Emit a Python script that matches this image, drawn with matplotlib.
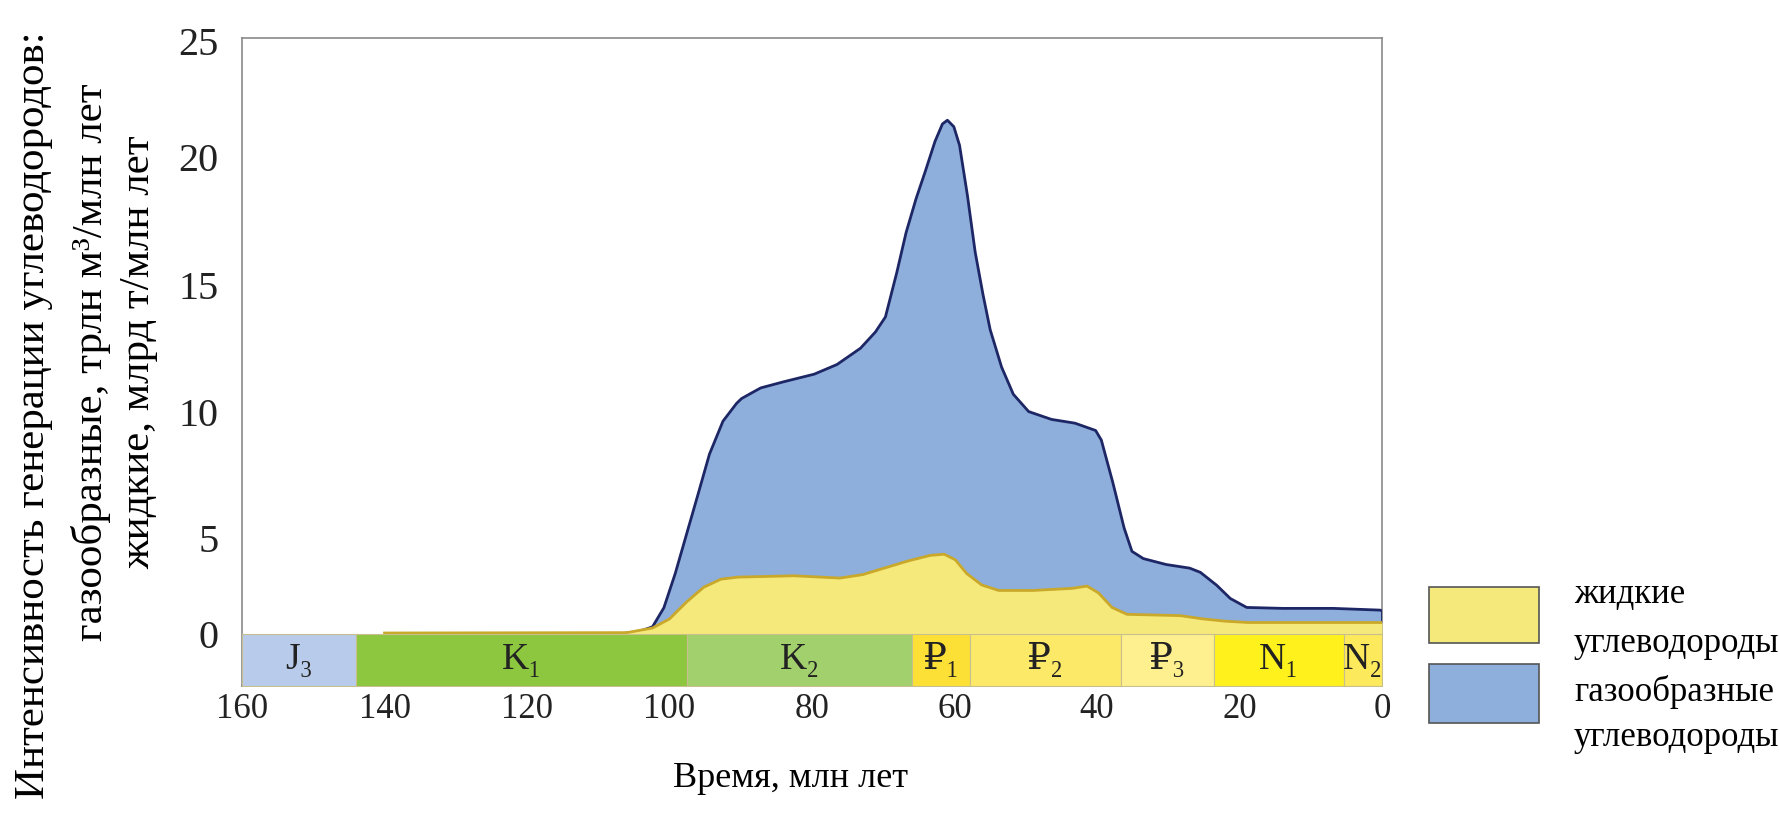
import matplotlib
matplotlib.use("Agg")
import matplotlib.pyplot as plt
import numpy as np
from matplotlib.patches import Rectangle

plt.rcParams['font.family'] = ['Liberation Serif', 'DejaVu Serif']

# gas (blue, upper envelope) - time in Ma, intensity
gas_t = [107, 104.5, 102.4, 100.8, 99.2, 97.6, 96.0, 94.4, 92.5, 90.6, 89.9, 88.5,
         87.2, 84.0, 79.7, 76.5, 73.2, 71.1, 69.7, 68.1, 66.8, 65.4, 64.1, 62.75,
         61.7, 61.0, 60.1, 59.3, 58.2, 57.1, 56.0, 55.0, 53.4, 51.75, 49.6, 46.4,
         43.1, 40.2, 39.4, 37.8, 36.2, 35.1, 33.5, 30.3, 27.0, 25.5, 23.2, 21.3,
         19.0, 13.9, 6.8, 0.3, 0.0]
gas_v = [0.0, 0.10, 0.36, 1.36, 3.16, 5.18, 6.75, 8.34, 9.65, 10.35, 10.54, 10.76,
         10.96, 11.2, 11.5, 11.88, 12.52, 13.16, 13.75, 15.5, 17.05, 18.37, 19.44, 20.66,
         21.42, 21.58, 21.3, 20.5, 18.51, 16.28, 14.62, 13.25, 11.78, 10.71, 10.03, 9.72,
         9.57, 9.28, 8.9, 7.23, 5.41, 4.32, 3.94, 3.63, 3.44, 3.22, 2.54, 1.85,
         1.38, 1.33, 1.33, 1.24, 1.21]

# liquid (yellow)
liq_t = [140, 106, 102.4, 100.0, 97.6, 95.2, 92.8, 90.4, 82.5, 76.1, 72.9, 69.7,
         66.5, 63.4, 61.45, 59.9, 58.3, 56.2, 53.8, 49.0, 43.5, 41.4, 39.8, 37.9,
         35.8, 28.3, 25.15, 22.0, 18.8, 0.0]
liq_v = [0.04, 0.06, 0.30, 0.78, 1.67, 2.44, 2.86, 2.97, 3.04, 2.92, 3.10, 3.46,
         3.82, 4.11, 4.17, 3.88, 3.16, 2.56, 2.27, 2.27, 2.38, 2.50, 2.14, 1.38,
         1.02, 0.95, 0.78, 0.66, 0.59, 0.59]

# stratigraphic scale
strat_start = [160, 144, 97.5, 66, 57.8, 36.6, 23.6, 5.3]
strat_end = [144, 97.5, 66, 57.8, 36.6, 23.6, 5.3, 0]
strat_label = ['J₃', 'K₁', 'K₂', '₽₁', '₽₂', '₽₃', 'N₁', 'N₂']
strat_color = ['#b9cbea', '#8dc63f', '#a1d06c', '#fde036', '#fde968', '#fef08f', '#fff21c', '#fde95c']

xticks = [160, 140, 120, 100, 80, 60, 40, 20, 0]
yticks = [0, 5, 10, 15, 20, 25]

# the original's y axis is not evenly spaced: tick value -> relative height
y_anchor_val = [-10, 0, 5, 10, 15, 20, 25, 35]
y_anchor_pos = [-168, 0, 84, 195, 307, 420, 522, 726]


def fwd(v):
    return np.interp(v, y_anchor_val, y_anchor_pos)


def inv(p):
    return np.interp(p, y_anchor_pos, y_anchor_val)


band_bottom = -2.74

fig = plt.figure(figsize=(17.81, 8.14), dpi=100)
ax = fig.add_axes([0.1359, 0.1572, 0.6401, 0.7967])
ax.set_yscale('function', functions=(fwd, inv))

blue_fill = '#8eaedb'
blue_edge = '#1e2766'
yel_fill = '#f5e97c'
yel_edge = '#c9a82a'

ax.fill_between(gas_t, 0, gas_v, color=blue_fill, lw=0, zorder=2)
ax.plot(gas_t, gas_v, color=blue_edge, lw=2, solid_joinstyle='round', zorder=3)
ax.vlines(gas_t[-1], liq_v[-1], gas_v[-1], color=blue_edge, lw=2, zorder=3)
ax.fill_between(liq_t, 0, liq_v, color=yel_fill, lw=0, zorder=4)
ax.plot(liq_t, liq_v, color=yel_edge, lw=2, solid_joinstyle='round', zorder=5)

for s, e, lab, c in zip(strat_start, strat_end, strat_label, strat_color):
    ax.fill_between([s, e], band_bottom, 0, color=c, ec='#c8bf8e', lw=0.8, zorder=6)
    ax.text((s + e) / 2, band_bottom / 2, lab, ha='center', va='center',
            fontsize=27, color='#222222', zorder=7)

ax.set_xlim(160, 0)
ax.set_ylim(band_bottom, 25.15)
ax.set_xticks(xticks)
ax.set_yticks(yticks)
ax.set_yticklabels([str(v) for v in yticks])
ax.minorticks_off()
ax.tick_params(axis='both', length=0, colors='#222222')
ax.tick_params(axis='y', pad=17, labelsize=29)
ax.tick_params(axis='x', pad=5, labelsize=25)
for sp in ax.spines.values():
    sp.set_color('#8a8a8a')
    sp.set_linewidth(1.2)

fig.text(0.444, 0.0442, 'Время, млн лет', ha='center', va='center', fontsize=26)

ylab = ['Интенсивность генерации углеводородов:',
        'газообразные, трлн м³/млн лет',
        'жидкие, млрд т/млн лет']
ylab_x = [34, 91, 139]
ylab_y = [415, 362, 352]
for line, xp, yp in zip(ylab, ylab_x, ylab_y):
    fig.text(xp / 1781, 1 - yp / 814, line, rotation=90, ha='center', va='center', fontsize=31)

# legend
fig.add_artist(Rectangle((1429 / 1781, 1 - 643 / 814), 110 / 1781, 56 / 814,
                         transform=fig.transFigure, fc=yel_fill, ec='#555555', lw=1.2))
fig.add_artist(Rectangle((1429 / 1781, 1 - 723 / 814), 110 / 1781, 59 / 814,
                         transform=fig.transFigure, fc=blue_fill, ec='#555555', lw=1.2))
leg_txt = [('жидкие', 595), ('углеводороды', 644), ('газообразные', 692), ('углеводороды', 738)]
for txt, yp in leg_txt:
    fig.text(1574 / 1781, 1 - yp / 814, txt, ha='left', va='center', fontsize=25)

fig.savefig('out.png', dpi=100)
